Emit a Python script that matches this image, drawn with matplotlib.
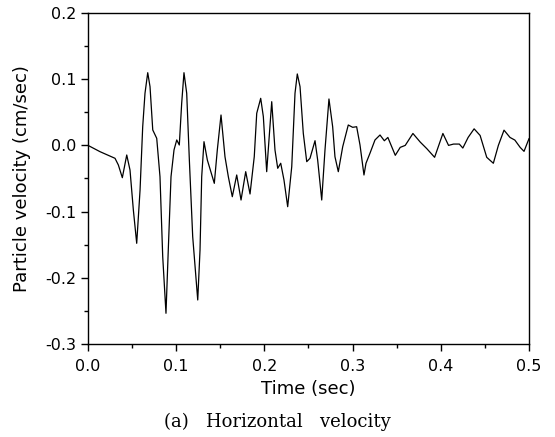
import matplotlib
matplotlib.use('Agg')
import matplotlib.pyplot as plt
from matplotlib.ticker import MultipleLocator

# values
time_sec = [0.000, 0.0136, 0.0306, 0.0344, 0.0389, 0.0439, 0.0476, 0.0514, 0.0552, 0.0590,
            0.0620, 0.0646, 0.0677, 0.0703, 0.0734, 0.0779, 0.0816, 0.0847, 0.0884, 0.0910,
            0.0941, 0.0975, 0.1006, 0.1035, 0.1062, 0.1088, 0.1119, 0.1149, 0.1187, 0.1244,
            0.1270, 0.1289, 0.1315, 0.1353, 0.1432, 0.1466, 0.1508, 0.1553, 0.1591, 0.1636,
            0.1686, 0.1735, 0.1788, 0.1837, 0.1885, 0.1913, 0.1958, 0.1988, 0.2026, 0.2083,
            0.2120, 0.2151, 0.2185, 0.2222, 0.2264, 0.2310, 0.2347, 0.2373, 0.2404, 0.2441,
            0.2480, 0.2517, 0.2574, 0.2604, 0.2650, 0.2687, 0.2732, 0.2774, 0.2800, 0.2838,
            0.2888, 0.2951, 0.3001, 0.3046, 0.3084, 0.3129, 0.3152, 0.3197, 0.3254, 0.3311,
            0.336, 0.340, 0.3484, 0.354, 0.3597, 0.3684, 0.3767, 0.3842, 0.393, 0.4024,
            0.4088, 0.4145, 0.421, 0.425, 0.431, 0.4378, 0.4446, 0.4521, 0.4596, 0.4653,
            0.4717, 0.4785, 0.484, 0.490, 0.4944, 0.4985, 0.500]
velocity = [0.000, -0.0095, -0.0195, -0.0296, -0.0488, -0.0145, -0.0372, -0.0976, -0.1479, -0.0674,
            0.0282, 0.0787, 0.1098, 0.0887, 0.0233, 0.0107, -0.0473, -0.1681, -0.2536, -0.158,
            -0.0473, -0.0069, 0.0082, 0.0006, 0.0636, 0.1098, 0.0787, -0.0221, -0.1379, -0.2335,
            -0.158, -0.0473, 0.0056, -0.0221, -0.0573, -0.0069, 0.0459, -0.0171, -0.0473, -0.0775,
            -0.0447, -0.0825, -0.0397, -0.0734, -0.0171, 0.0485, 0.0711, 0.0434, -0.0397, 0.0660,
            -0.0069, -0.0346, -0.0270, -0.0523, -0.0926, -0.0322, 0.0787, 0.1079, 0.0887, 0.0183,
            -0.0246, -0.0195, 0.0071, -0.0221, -0.0825, -0.0069, 0.0701, 0.0282, -0.0171, -0.0397,
            -0.0020, 0.0308, 0.0273, 0.0282, 0.0006, -0.0447, -0.0270, -0.0119, 0.0082, 0.0157,
            0.007, 0.012, -0.015, -0.003, 0.000, 0.018, 0.005, -0.005, -0.018, 0.018,
            0.000, 0.002, 0.002, -0.004, 0.012, 0.025, 0.015, -0.018, -0.027, 0.000,
            0.023, 0.012, 0.008, -0.003, -0.009, 0.005, 0.010]

plt.rcParams['font.family'] = ['DejaVu Sans']

fig = plt.figure(figsize=(5.55, 4.37), dpi=100)
ax = fig.add_axes([0.1586, 0.2128, 0.7945, 0.7575])

ax.plot(time_sec, velocity, color='black', linewidth=0.9)

ax.set_xlim(0, 0.5)
ax.set_ylim(-0.3, 0.2)
ax.xaxis.set_major_locator(MultipleLocator(0.1))
ax.xaxis.set_minor_locator(MultipleLocator(0.05))
ax.yaxis.set_major_locator(MultipleLocator(0.1))
ax.yaxis.set_minor_locator(MultipleLocator(0.05))
ax.xaxis.set_major_formatter(plt.FormatStrFormatter('%.1f'))
ax.yaxis.set_major_formatter(plt.FormatStrFormatter('%.1f'))
ax.tick_params(which='major', direction='out', length=5, width=1, labelsize=11.5)
ax.tick_params(axis='x', which='major', pad=6)
ax.tick_params(which='minor', direction='out', length=3, width=1)
for s in ax.spines.values():
    s.set_linewidth(1)

ax.set_xlabel('Time (sec)', fontsize=13, labelpad=4)
ax.set_ylabel('Particle velocity (cm/sec)', fontsize=13, labelpad=10)

fig.text(0.5, 0.034, '(a)   Horizontal   velocity', ha='center', va='center',
         fontsize=13, family=['DejaVu Serif'])

fig.savefig('out.png', dpi=100)
